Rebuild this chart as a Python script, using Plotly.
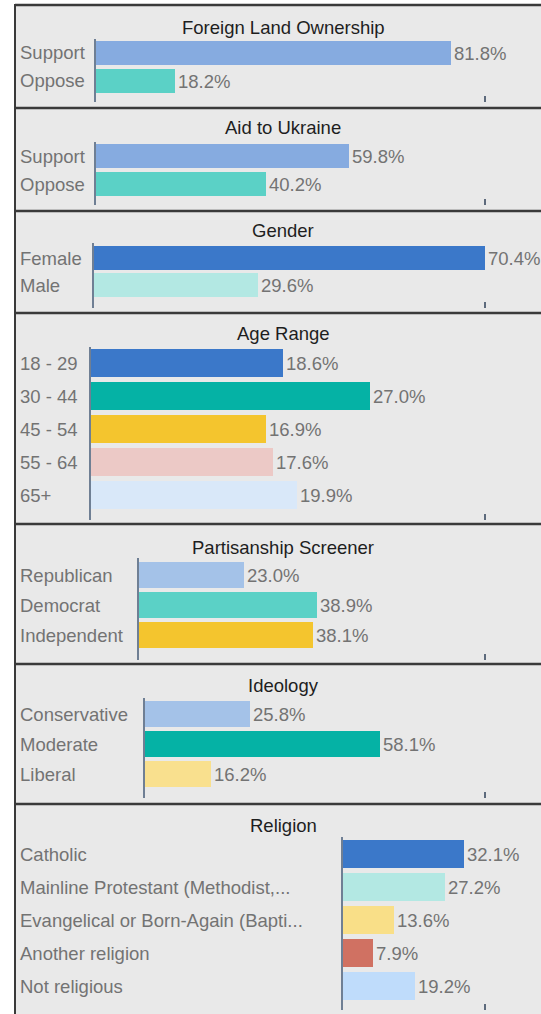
import plotly.graph_objects as go

W, H = 541, 1014

land_cats = ["Support", "Oppose"]
land_vals = [81.8, 18.2]
ukraine_cats = ["Support", "Oppose"]
ukraine_vals = [59.8, 40.2]
gender_cats = ["Female", "Male"]
gender_vals = [70.4, 29.6]
age_cats = ["18 - 29", "30 - 44", "45 - 54", "55 - 64", "65+"]
age_vals = [18.6, 27.0, 16.9, 17.6, 19.9]
party_cats = ["Republican", "Democrat", "Independent"]
party_vals = [23.0, 38.9, 38.1]
ideo_cats = ["Conservative", "Moderate", "Liberal"]
ideo_vals = [25.8, 58.1, 16.2]
religion_cats = ["Catholic", "Mainline Protestant (Methodist,...",
                 "Evangelical or Born-Again (Bapti...", "Another religion", "Not religious"]
religion_vals = [32.1, 27.2, 13.6, 7.9, 19.2]

BLUE, TEAL, YELLOW = "#3b78c9", "#05b2a5", "#f4c52e"
LBLUE, TURQ, LTURQ = "#86abe0", "#5bd1c6", "#b3e8e3"

# title, cats, vals, colors, border_y, title_y, x0, first_center, step, top, bottom, xmax
panels = [
    ("Foreign Land Ownership", land_cats, land_vals, [LBLUE, TURQ], 5, 27, 96, 53, 28, 39, 102, 89.6),
    ("Aid to Ukraine", ukraine_cats, ukraine_vals, [LBLUE, TURQ], 108, 128, 96, 156, 28, 142, 205, 92.0),
    ("Gender", gender_cats, gender_vals, [BLUE, LTURQ], 211, 231, 94, 258, 27, 243, 308, 70.4),
    ("Age Range", age_cats, age_vals, [BLUE, TEAL, YELLOW, "#ecc9c6", "#d9e8f9"],
     313, 333, 91, 363, 33, 347, 520, 38.1),
    ("Partisanship Screener", party_cats, party_vals, ["#a4c2e8", TURQ, YELLOW],
     524, 547, 139, 575, 30, 558, 660, 75.7),
    ("Ideology", ideo_cats, ideo_vals, ["#a4c2e8", TEAL, "#f9e08e"],
     664, 685, 145, 714, 30, 698, 798, 83.9),
    ("Religion", religion_cats, religion_vals, [BLUE, LTURQ, "#f9df88", "#d07162", "#bfdcfb"],
     804, 825, 343, 854, 33, 837, 1010, 37.7),
]

FONT = "Liberation Sans, Arial, sans-serif"
fig = go.Figure()
annotations, shapes = [], []

# panel background and left border
shapes.append(dict(type="rect", xref="paper", yref="paper", x0=15 / W, x1=1, y0=0, y1=1 - 5 / H,
                   fillcolor="#e9e9e9", line_width=0, layer="below"))
shapes.append(dict(type="line", xref="paper", yref="paper", x0=15 / W, x1=15 / W, y0=0, y1=1 - 4 / H,
                   line=dict(color="#3a3a3a", width=2)))

for i, (title, cats, vals, colors, by, ty, x0, c0, step, top, bot, xmax) in enumerate(panels):
    n = "" if i == 0 else str(i + 1)
    fig.add_trace(go.Bar(
        x=vals, y=cats, orientation="h", xaxis="x" + n, yaxis="y" + n,
        marker=dict(color=colors, line=dict(width=0)), width=0.86,
        text=[f"{v:.1f}%" for v in vals], textposition="outside",
        textfont=dict(family=FONT, size=18.5, color="#737373"),
        constraintext="none", cliponaxis=False, showlegend=False, hoverinfo="skip"))
    fig.update_layout({
        "xaxis" + n: dict(domain=[x0 / W, 485 / W], range=[0, xmax], anchor="y" + n,
                          showgrid=False, zeroline=False, showline=False, showticklabels=False,
                          ticks="", fixedrange=True),
        "yaxis" + n: dict(domain=[1 - bot / H, 1 - top / H], anchor="x" + n, type="category",
                          categoryarray=cats, range=[(bot - c0) / step, (top - c0) / step],
                          showgrid=False, zeroline=False, showticklabels=False, ticks="",
                          showline=True, linewidth=2, linecolor="#6f7f94", fixedrange=True),
    })
    # small end tick at the bottom right of each panel
    shapes.append(dict(type="line", xref="paper", yref="paper", x0=485 / W, x1=485 / W,
                       y0=1 - bot / H, y1=1 - (bot - 6) / H, line=dict(color="#5d6a7c", width=2)))
    shapes.append(dict(type="line", xref="paper", yref="paper", x0=15 / W, x1=1,
                       y0=1 - by / H, y1=1 - by / H, line=dict(color="#3a3a3a", width=2.5)))
    annotations.append(dict(text=title, xref="paper", yref="paper", x=283 / W, y=1 - ty / H,
                            xanchor="center", yanchor="middle", showarrow=False,
                            font=dict(family=FONT, size=18.5, color="#1e1e1e")))
    for c in cats:
        annotations.append(dict(text=c, xref="paper", yref="y" + n, x=18 / W, y=c,
                                xanchor="left", yanchor="middle", showarrow=False,
                                font=dict(family=FONT, size=18.5, color="#737373")))

fig.update_layout(width=W, height=H, margin=dict(l=0, r=0, t=0, b=0),
                  paper_bgcolor="white", plot_bgcolor="rgba(0,0,0,0)",
                  bargap=0, annotations=annotations, shapes=shapes)

fig.write_html("out.html", config={"displayModeBar": False},
               post_script="document.body.style.margin='0';document.body.style.overflow='hidden';")
